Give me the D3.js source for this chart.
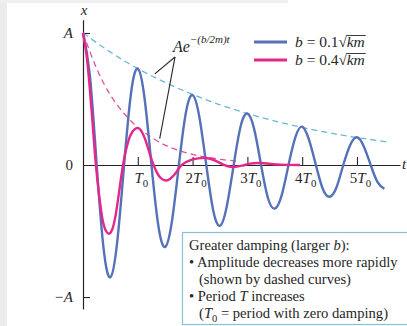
<!DOCTYPE html>
<head>
  <meta charset="utf-8">
  <title>Damped oscillations</title>
  <style>
    body { margin: 0; background: #fff; }
    svg { display: block; font-family: "Liberation Serif", "Times New Roman", serif; }
  </style>
</head>

<body>
  <script src="https://cdn.jsdelivr.net/npm/d3@7/dist/d3.min.js"></script>
  <script>
    // time in units of T0, displacement in units of A
    var blueCurve = [
      [0, 1], [0.125, 0.68], [0.25, 0], [0.375, -0.63], [0.5, -0.85], [0.625, -0.58], [0.75, 0], [0.875, 0.54],
      [1, 0.73], [1.125, 0.5], [1.25, 0], [1.375, -0.46], [1.5, -0.62], [1.625, -0.42], [1.75, 0], [1.875, 0.39],
      [2, 0.53], [2.125, 0.36], [2.25, 0], [2.375, -0.34], [2.5, -0.46], [2.625, -0.31], [2.75, 0], [2.875, 0.29],
      [3, 0.39], [3.125, 0.27], [3.25, 0], [3.375, -0.25], [3.5, -0.33], [3.625, -0.23], [3.75, 0], [3.875, 0.21],
      [4, 0.29], [4.125, 0.19], [4.25, 0], [4.375, -0.18], [4.5, -0.24], [4.625, -0.17], [4.75, 0], [4.875, 0.15],
      [5, 0.21], [5.125, 0.14], [5.25, 0], [5.375, -0.13], [5.5, -0.18]
    ];
    var pinkCurve = [
      [0, 1], [0.06, 0.85], [0.12, 0.6], [0.18, 0.29], [0.235, 0], [0.3, -0.25], [0.36, -0.42], [0.42, -0.5],
      [0.48, -0.52], [0.54, -0.48], [0.6, -0.37], [0.66, -0.2], [0.73, 0], [0.8, 0.14], [0.87, 0.23], [0.94, 0.27],
      [1, 0.28], [1.06, 0.26], [1.13, 0.2], [1.2, 0.11], [1.27, 0.02], [1.34, -0.05], [1.41, -0.095], [1.48, -0.115],
      [1.55, -0.115], [1.63, -0.09], [1.71, -0.05], [1.8, 0], [1.95, 0.035], [2.1, 0.05], [2.25, 0.053], [2.4, 0.035],
      [2.55, 0.005], [2.72, -0.015], [2.9, -0.005], [3.05, 0.01], [3.2, 0.015], [3.4, 0.01], [3.6, 0.003], [3.96, 0]
    ];
    var blueEnvelope = [
      [0, 1], [0.5, 0.855], [1, 0.73], [1.5, 0.625], [2, 0.535], [2.5, 0.456], [3, 0.39],
      [3.5, 0.333], [4, 0.285], [4.5, 0.243], [5, 0.208], [5.55, 0.175]
    ];
    var pinkEnvelope = [
      [0, 1], [0.25, 0.73], [0.5, 0.53], [0.75, 0.39], [1, 0.285], [1.25, 0.21], [1.5, 0.15],
      [1.75, 0.11], [2, 0.08], [2.25, 0.06], [2.5, 0.043], [2.75, 0.032], [2.86, 0.026]
    ];
    var periodTicks = [1, 2, 3, 4, 5];
    var periodLabels = ["", "2", "3", "4", "5"];
    var ampTicks = [1, 0, -1];
    var ampLabels = ["A", "0", "\u2212A"];
    var legendValues = ["0.1", "0.4"];
    var noteLines = [
      [["Greater damping (larger "], ["b", "i"], ["):"]],
      [["\u2022 Amplitude decreases more rapidly"]],
      [["(shown by dashed curves)"]],
      [["\u2022 Period "], ["T", "i"], [" increases"]],
      [["("], ["T", "i"], ["0", "sub"], [" = period with zero damping)"]]
    ];

    var w = 407, h = 326;
    var blue = "#5572b9", pink = "#e3278b", blueDash = "#68b8d9", pinkDash = "#e6519d", ink = "#262626";

    var svg = d3.select("body").append("svg").attr("width", w).attr("height", h);

    // faint page edge
    svg.append("rect").attr("x", 0).attr("y", 0).attr("width", 7).attr("height", h).attr("fill", "#ececec");
    svg.append("rect").attr("x", 0).attr("y", 0).attr("width", 288).attr("height", 3).attr("fill", "#efefef");

    var x = d3.scaleLinear().domain([0, 5.785]).range([83, 400]);
    var y = d3.scaleLinear().domain([-1.09, 1.1]).range([308.9, 19.8]);

    // rich text helper: parts of [text, style]
    function rich(sel, parts, size) {
      var shift = 0;
      parts.forEach(function(p) {
        var t = sel.append("tspan").text(p[0]);
        if (p[1] == "i") t.style("font-style", "italic");
        if (p[1] == "sub") {
          t.attr("font-size", size * 0.72).attr("dy", size * 0.28);
          shift = size * 0.28;
        } else if (shift) {
          t.attr("dy", -shift);
          shift = 0;
        }
      });
    }

    // x axis with upward ticks
    var xAxis = d3.axisBottom(x).tickValues(periodTicks).tickSizeInner(-8).tickSizeOuter(0).tickFormat(function() { return ""; });
    var gx = svg.append("g").attr("transform", "translate(0," + y(0) + ")").call(xAxis);
    gx.select(".domain").attr("stroke", ink).attr("stroke-width", 1.2);
    gx.selectAll(".tick line").attr("stroke", ink).attr("stroke-width", 1.1);
    gx.selectAll(".tick text").remove();
    gx.selectAll(".tick").each(function(d, i) {
      var t = d3.select(this).append("text")
        .attr("x", 3).attr("y", 18).attr("text-anchor", "middle")
        .attr("fill", ink).attr("font-size", 15).attr("font-family", "Liberation Serif");
      rich(t, [[periodLabels[i]], ["T", "i"], ["0", "sub"]], 15);
    });

    // y axis, ticks pointing right
    var yAxis = d3.axisLeft(y).tickValues(ampTicks).tickSizeInner(-7).tickSizeOuter(0).tickPadding(10)
      .tickFormat(function(d, i) { return ampLabels[i]; });
    var gy = svg.append("g").attr("transform", "translate(" + x(0) + ",0)").call(yAxis);
    gy.select(".domain").attr("stroke", ink).attr("stroke-width", 1.2);
    gy.selectAll(".tick line").attr("stroke", ink).attr("stroke-width", 1.1)
      .filter(function(d) { return d == 0; }).remove();
    gy.selectAll(".tick text").attr("font-size", 15).attr("font-family", "Liberation Serif").attr("fill", ink)
      .style("font-style", function(d) { return d == 0 ? "normal" : "italic"; });

    // axis names
    svg.append("text").attr("x", x(0) + 1).attr("y", 15).attr("text-anchor", "middle")
      .attr("font-size", 15).style("font-style", "italic").attr("fill", ink).text("x");
    svg.append("text").attr("x", 402).attr("y", 169)
      .attr("font-size", 15).style("font-style", "italic").attr("fill", ink).text("t");

    var line = d3.line()
      .x(function(d) { return x(d[0]); })
      .y(function(d) { return y(d[1]); })
      .curve(d3.curveNatural);

    // envelopes
    svg.append("path").attr("d", line(blueEnvelope)).attr("fill", "none")
      .attr("stroke", blueDash).attr("stroke-width", 1.3).attr("stroke-dasharray", "6,4");
    svg.append("path").attr("d", line(pinkEnvelope)).attr("fill", "none")
      .attr("stroke", pinkDash).attr("stroke-width", 1.3).attr("stroke-dasharray", "6,4");

    // oscillations
    svg.append("path").attr("d", line(blueCurve)).attr("fill", "none")
      .attr("stroke", blue).attr("stroke-width", 2.4);
    svg.append("path").attr("d", line(pinkCurve)).attr("fill", "none")
      .attr("stroke", pink).attr("stroke-width", 2.4);

    // envelope annotation
    var ann = svg.append("text").attr("x", 173).attr("y", 52).attr("font-size", 16).attr("fill", ink)
      .style("font-style", "italic");
    ann.append("tspan").text("Ae");
    ann.append("tspan").attr("dy", -9).attr("font-size", 11).text("\u2212(b/2m)t");
    svg.append("line").attr("x1", 175).attr("y1", 57).attr("x2", x(1.31)).attr("y2", y(0.69))
      .attr("stroke", ink).attr("stroke-width", 1.1);
    svg.append("line").attr("x1", 175).attr("y1", 57).attr("x2", x(1.4)).attr("y2", y(0.2))
      .attr("stroke", ink).attr("stroke-width", 1.1);

    // legend
    [blue, pink].forEach(function(c, i) {
      var ly = 42 + i * 18;
      svg.append("line").attr("x1", 254).attr("x2", 287).attr("y1", ly).attr("y2", ly)
        .attr("stroke", c).attr("stroke-width", 3);
      var t1 = svg.append("text").attr("x", 295).attr("y", ly + 5).attr("font-size", 15.5).attr("fill", ink);
      t1.append("tspan").style("font-style", "italic").text("b");
      t1.append("tspan").text(" = " + legendValues[i] + "\u221A");
      var x2 = 295 + t1.node().getComputedTextLength() - 0.5;
      var t2 = svg.append("text").attr("x", x2).attr("y", ly + 5).attr("font-size", 15.5).attr("fill", ink)
        .style("font-style", "italic").text("km");
      var kw = t2.node().getComputedTextLength();
      svg.append("line").attr("x1", x2).attr("x2", x2 + kw + 1).attr("y1", ly - 6.5).attr("y2", ly - 6.5)
        .attr("stroke", ink).attr("stroke-width", 0.9);
    });

    // note box
    svg.append("rect").attr("x", 182.5).attr("y", 232.5).attr("width", 240).attr("height", 92)
      .attr("fill", "#fff").attr("stroke", "#86c2d2").attr("stroke-width", 1.2);
    noteLines.forEach(function(parts, i) {
      var tx = (i == 0 || i == 1 || i == 3) ? 189 : 199;
      var t = svg.append("text").attr("x", tx).attr("y", 250 + i * 17)
        .attr("font-size", 14.6).attr("fill", ink);
      rich(t, parts, 14.6);
    });
  </script>
</body>
